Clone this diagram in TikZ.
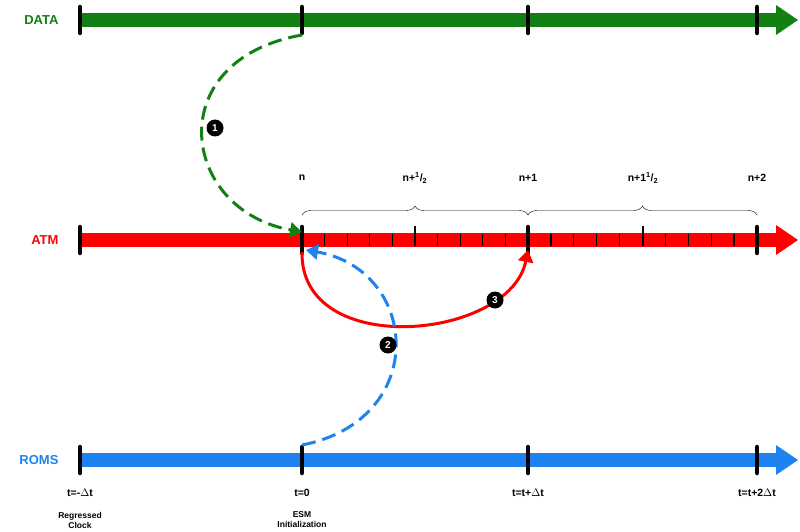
\documentclass[tikz,border=0pt]{standalone}
\usepackage{fontspec}
\setmainfont{Liberation Sans}
\usetikzlibrary{arrows.meta,decorations.pathreplacing}
\definecolor{datagreen}{RGB}{18,128,18}
\definecolor{atmred}{RGB}{255,0,0}
\definecolor{romsblue}{RGB}{30,130,240}
\tikzset{
  major/.style={line width=4.5pt,line cap=round},
  minor/.style={line width=1.3pt},
  lbl/.style={font=\bfseries\fontsize{13}{13}\selectfont},
  tlbl/.style={font=\bfseries\fontsize{10.5}{11}\selectfont},
  note/.style={font=\bfseries\fontsize{8.5}{10}\selectfont,align=center},
  num/.style={circle,fill=black,text=white,inner sep=0pt,minimum size=17pt,font=\bfseries\fontsize{10}{10}\selectfont},
  link/.style={line width=3pt,-{Triangle[length=12pt,width=15pt]}},
}
\begin{document}
\begin{tikzpicture}[x=1pt,y=-1pt]
\useasboundingbox (0,0) rectangle (800,532);

% timelines
\foreach \yy/\cc/\nm in {20/datagreen/DATA,240/atmred/ATM,460/romsblue/ROMS}{
  \fill[\cc] (80,\yy-7) rectangle (776,\yy+7);
  \fill[\cc] (776,\yy-15) -- (798,\yy) -- (776,\yy+15) -- cycle;
  \node[lbl,text=\cc,anchor=east] at (62,\yy) {\nm};
  \foreach \xx in {80,302,528,757}
    \draw[major] (\xx,\yy-13) -- (\xx,\yy+13);
}

% ATM substeps
\foreach \k in {1,...,9}{
  \draw[minor] (302+22.6*\k,234) -- (302+22.6*\k,246);
  \draw[minor] (528+22.9*\k,234) -- (528+22.9*\k,246);
}
\draw[line width=2.5pt] (415,226) -- (415,246);
\draw[line width=2.5pt] (643,226) -- (643,246);

% braces
\draw[decorate,decoration={brace,amplitude=9pt}] (302,215) -- (528,215);
\draw[decorate,decoration={brace,amplitude=9pt}] (528,215) -- (757,215);
\node[tlbl] (ln)  at (302,178) {n};
\node[tlbl] (lh)  at (415,178) {n+\textsuperscript{1}/\textsubscript{2}};
\node[tlbl] (l1)  at (528,178) {n+1};
\node[tlbl] (l1h) at (643,178) {n+1\textsuperscript{1}/\textsubscript{2}};
\node[tlbl] (l2)  at (757,178) {n+2};

% time labels
\node[tlbl] (tm) at (80,493) {t=-$\Delta$t};
\node[tlbl] (t0) at (302,493) {t=0};
\node[tlbl] (t1) at (528,493) {t=t+$\Delta$t};
\node[tlbl] (t2) at (757,493) {t=t+2$\Delta$t};
\node[note] (rc) at (80,520) {Regressed\\Clock};
\node[note] (esm) at (302,520) {ESM\\Initialization};

% coupling steps
\coordinate (d0) at (302,35);
\coordinate (a0) at (302,232);
\coordinate (a0b) at (306,250);
\coordinate (a1) at (528,250);
\coordinate (r0) at (302,445);
\draw[link,datagreen,dash pattern=on 14pt off 7pt] (d0) .. controls (160,60) and (180,210) .. (a0);
\draw[link,atmred] (302,252) .. controls (300,360) and (510,340) .. (a1);
\draw[link,romsblue,dash pattern=on 14pt off 7pt] (r0) .. controls (430,420) and (420,270) .. (a0b);
\node[num] (s1) at (215,128) {1};
\node[num] (s2) at (388,345) {2};
\node[num] (s3) at (495,300) {3};
\end{tikzpicture}
\end{document}
